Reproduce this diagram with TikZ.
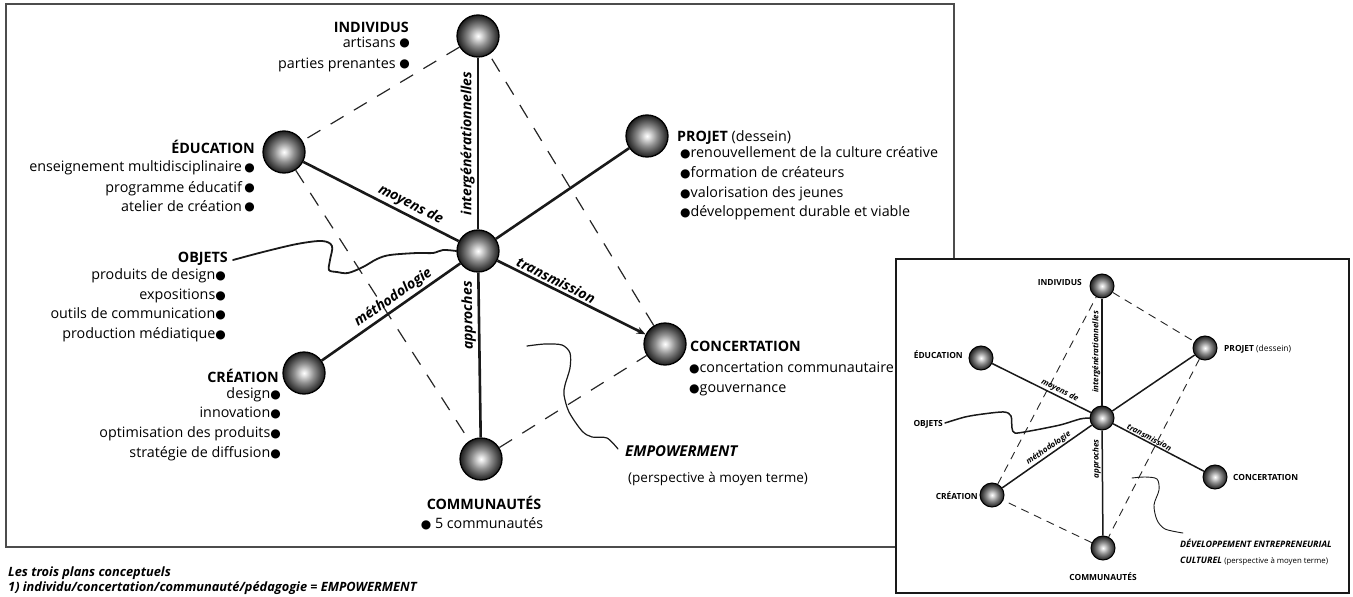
\documentclass[tikz,border=0pt]{standalone}
\usepackage{fontspec}
\setmainfont{Open Sans}
\newfontfamily\sym{DejaVu Sans}
\usetikzlibrary{arrows.meta}
\pgfdeclareradialshading{sphereshade}{\pgfpoint{0bp}{0bp}}{color(0bp)=(white); color(3bp)=(white!90!black); color(12bp)=(black!45); color(20bp)=(black!72); color(25bp)=(black!88); color(50bp)=(black!88)}
\newcommand\bul{{\sym\fontsize{12}{10}\selectfont\raisebox{0.2pt}{●}}}
\begin{document}
\begin{tikzpicture}[x=1pt,y=-1pt,
 ball/.style={circle, draw=black, line width=1.3pt, shading=sphereshade, minimum size=42pt, inner sep=0pt},
 sball/.style={ball, minimum size=24pt, line width=1pt},
 spoke/.style={line width=2.6pt, black!90},
 sspoke/.style={line width=1.5pt, black!90},
 dline/.style={line width=1.2pt, dash pattern=on 15pt off 12pt, black!85},
 sdline/.style={line width=0.9pt, dash pattern=on 8pt off 6pt, black!85},
 lab/.style={inner sep=0pt, text=black, font=\fontsize{14.3}{16}\selectfont},
 slab/.style={inner sep=0pt, text=black, font=\fontsize{8.4}{9}\selectfont\bfseries},
 splab/.style={sloped, allow upside down, above, inner sep=2pt, text=black, font=\fontsize{14}{14}\selectfont\bfseries\itshape},
 ssplab/.style={sloped, allow upside down, above, inner sep=1pt, text=black, font=\fontsize{8}{8}\selectfont\bfseries\itshape},
 wave/.style={line width=1.8pt, black!90, line join=round, line cap=round},
 swave/.style={line width=1.2pt, black!90, line join=round, line cap=round},
 captxt/.style={inner sep=0pt, text=black, font=\fontsize{12.8}{13}\selectfont\bfseries\itshape},
 ]
\useasboundingbox (0,0) rectangle (1353,597);
% frames
\draw[line width=2pt, black!70] (5.5,4) rectangle (954,547);
\draw[line width=2pt, black!90, fill=white] (896,259) rectangle (1349,593);

% ===== main panel texts =====
\node[lab, anchor=base east] (i0) at (409,32) {\bfseries INDIVIDUS};
\node[lab, anchor=base east] (i1) at (410,47) {artisans \bul};
\node[lab, anchor=base east] (i2) at (410,68) {parties prenantes \bul};

\node[lab, anchor=base east] (e0) at (255,153) {\bfseries ÉDUCATION};
\node[lab, anchor=base east] (e1) at (255,171.5) {enseignement multidisciplinaire\,\bul};
\node[lab, anchor=base east] (e2) at (255,192) {programme éducatif\,\bul};
\node[lab, anchor=base east] (e3) at (255,211) {atelier de création\,\bul};

\node[lab, anchor=base east] (o0) at (228,262) {\bfseries OBJETS};
\node[lab, anchor=base east] (o1) at (226,279.5) {produits de design\bul};
\node[lab, anchor=base east] (o2) at (226,299.5) {expositions\bul};
\node[lab, anchor=base east] (o3) at (226,318.5) {outils de communication\bul};
\node[lab, anchor=base east] (o4) at (226,338.5) {production médiatique\bul};

\node[lab, anchor=base east] (c0) at (279,382) {\bfseries CRÉATION};
\node[lab, anchor=base east] (c1) at (281,398.5) {design\bul};
\node[lab, anchor=base east] (c2) at (281,417.5) {innovation\bul};
\node[lab, anchor=base east] (c3) at (281,437.5) {optimisation des produits\bul};
\node[lab, anchor=base east] (c4) at (281,457.5) {stratégie de diffusion\bul};

\node[lab, anchor=base west] (p0) at (677,141) {\bfseries PROJET \mdseries(dessein)};
\node[lab, anchor=base west] (p1) at (680,157.5) {\bul renouvellement de la culture créative};
\node[lab, anchor=base west] (p2) at (680,177.5) {\bul formation de créateurs};
\node[lab, anchor=base west] (p3) at (680,197.5) {\bul valorisation des jeunes};
\node[lab, anchor=base west] (p4) at (680,216.5) {\bul développement durable et viable};

\node[lab, anchor=base west] (k0) at (690,351) {\bfseries CONCERTATION};
\node[lab, anchor=base west] (k1) at (689,372.5) {\bul concertation communautaire};
\node[lab, anchor=base west] (k2) at (689,392.5) {\bul gouvernance};

\node[lab, anchor=base] (m0) at (484,509) {\bfseries COMMUNAUTÉS};
\node[lab, anchor=base] (m1) at (482,528.5) {\bul\ 5 communautés};

\node[lab, anchor=base west, font=\fontsize{15}{16}\selectfont\bfseries\itshape] (w0) at (625,456.5) {EMPOWERMENT};
\node[lab, anchor=base west, font=\fontsize{13.5}{16}\selectfont] (w1) at (628,482) {(perspective à moyen terme)};

\node[captxt, anchor=base west] (cap1) at (8,576) {Les trois plans conceptuels};
\node[captxt, anchor=base west] (cap2) at (8,591) {1) individu/concertation/communauté/pédagogie = EMPOWERMENT};

% ===== main panel balls =====
\node[ball] (ind) at (478,36) {};
\node[ball] (edu) at (284,152) {};
\node[ball] (pro) at (647,136) {};
\node[ball] (hub) at (478,251) {};
\node[ball] (con) at (665,344) {};
\node[ball] (cre) at (304,373) {};
\node[ball] (com) at (481,459) {};

% dashed quadrilateral
\draw[dline] (ind) -- (edu);
\draw[dline] (edu) -- (com);
\draw[dline] (com) -- (con);
\draw[dline] (con) -- (ind);

% spokes
\draw[spoke] (hub) -- node[splab, pos=0.5] (l1) {intergénérationnelles} (ind);
\draw[spoke] (edu) -- node[splab, pos=0.66] (l2) {moyens de} (hub);
\draw[spoke] (cre) -- node[splab, pos=0.56] (l3) {méthodologie} (hub);
\draw[spoke, -{Stealth[length=9pt,width=7pt]}] (hub) -- node[splab, pos=0.37] (l4) {transmission} (con);
\draw[spoke] (com) -- node[splab, pos=0.74] (l5) {approches} (hub);
\draw[spoke] (hub) -- (pro);

% wavy lines
\coordinate (oa) at (233,260);
\coordinate (ea) at (527,346);
\coordinate (eb) at (618,449);
\draw[wave] plot[smooth, tension=0.55] coordinates {(oa) (263,252) (297,244) (322,241) (332,246) (330,260) (329,270) (337,272) (348,273) (363,267) (377,259) (390,255) (417,253) (433,253) (443,250) (hub.west)};
\draw[swave] plot[smooth, tension=0.5] coordinates {(ea) (545,344) (562,345) (570,353) (570,368) (565,385) (564,395) (569,412) (582,431) (592,437) (607,438) (eb)};

% ===== small panel =====
\node[slab, anchor=base east] (si0) at (1082,285) {INDIVIDUS};
\node[slab, anchor=base east] (se0) at (963,358) {ÉDUCATION};
\node[slab, anchor=base west] (sp0) at (1224,351) {PROJET \mdseries(dessein)};
\node[slab, anchor=base east] (so0) at (943,426) {OBJETS};
\node[slab, anchor=base west] (sk0) at (1233,480) {CONCERTATION};
\node[slab, anchor=base east] (sc0) at (978,499) {CRÉATION};
\node[slab, anchor=base] (sm0) at (1103,580) {COMMUNAUTÉS};
\node[slab, anchor=base west, font=\fontsize{8.9}{9}\selectfont\bfseries\itshape] (sw0) at (1180,547) {DÉVELOPPEMENT ENTREPRENEURIAL};
\node[slab, anchor=base west, font=\fontsize{8.9}{9}\selectfont\bfseries\itshape] (sw1) at (1180,563) {CULTUREL \mdseries\upshape\fontsize{7.8}{8}\selectfont(perspective à moyen terme)};

\node[sball] (sind) at (1102,286) {};
\node[sball] (sedu) at (981,358) {};
\node[sball] (spro) at (1205,348) {};
\node[sball] (shub) at (1102,418) {};
\node[sball] (scon) at (1215,477) {};
\node[sball] (scre) at (992,495) {};
\node[sball] (scom) at (1103,548) {};

\draw[sdline] (sind) -- (spro);
\draw[sdline] (spro) -- (scom);
\draw[sdline] (scom) -- (scre);
\draw[sdline] (scre) -- (sind);

\draw[sspoke] (shub) -- node[ssplab, pos=0.5] (sl1) {intergénérationnelles} (sind);
\draw[sspoke] (sedu) -- node[ssplab, pos=0.66] (sl2) {moyens de} (shub);
\draw[sspoke] (scre) -- node[ssplab, pos=0.555] (sl3) {méthodologie} (shub);
\draw[sspoke] (shub) -- node[ssplab, pos=0.375] (sl4) {transmission} (scon);
\draw[sspoke] (scom) -- node[ssplab, pos=0.73] (sl5) {approches} (shub);
\draw[sspoke] (shub) -- (spro);

\coordinate (soa) at (945,423);
\coordinate (sea) at (1132,478);
\coordinate (seb) at (1183,533);
\draw[swave, line width=1.5pt] plot[smooth, tension=0.5] coordinates {(soa) (965,417) (983,414) (1004,412) (1011,416) (1012,428) (1015,433) (1030,431) (1060,425) (1080,419) (shub.west)};
\draw[swave, line width=0.9pt] plot[smooth, tension=0.5] coordinates {(sea) (1145,477) (1157,479) (1159,490) (1154,505) (1157,520) (1165,529) (seb)};
\end{tikzpicture}
\end{document}
